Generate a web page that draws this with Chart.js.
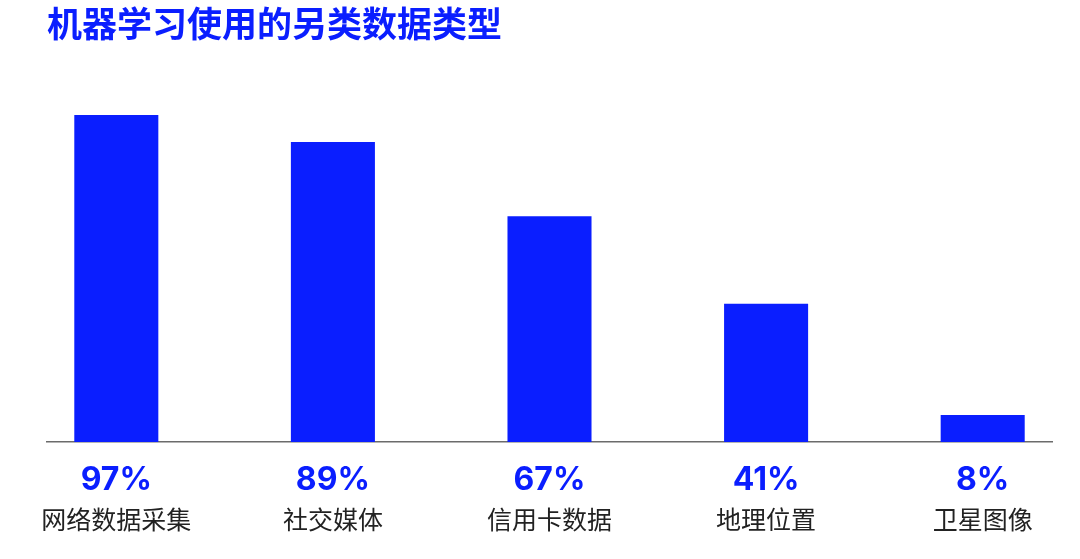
<!DOCTYPE html>
<html>
<head>
<meta charset="utf-8">
<script src="https://cdn.jsdelivr.net/npm/chart.js@4"></script>
<style>
  html, body { margin: 0; padding: 0; background: #fff; }
  #wrap { width: 1080px; height: 559px; }
</style>
</head>
<body>
<div id="wrap"><canvas id="main-chart"></canvas></div>
<script>
  // 机器学习使用的另类数据类型 — 막대 5개, 값 아래에 % + 항목명
  const BLUE = '#0A1EFF';
  const INK  = '#222222';

  const TITLE      = '机器学习使用的另类数据类型';
  const categories = ['网络数据采集', '社交媒体', '信用卡数据', '地理位置', '卫星图像'];
  const values     = [97, 89, 67, 41, 8];
  const pctLabels  = ['97%', '89%', '67%', '41%', '8%'];

  // 선형 x축 위에 막대를 놓아 기준선이 막대 바깥까지 이어지도록 함
  const points = values.map((v, i) => ({ x: i, y: v }));
  const tickAt = scale => { scale.ticks = categories.map((_, i) => ({ value: i })); };
  // tick padding 이 위아래로 두 번 들어가므로 축 높이를 직접 맞춤
  const fitTo = h => scale => { scale.height = h; };

  const ctx = document.getElementById('main-chart').getContext('2d');
  new Chart(ctx, {
    type: 'bar',
    data: {
      datasets: [{
        data: points,
        backgroundColor: BLUE,
        hoverBackgroundColor: BLUE,
        borderWidth: 0,
        barPercentage: 0.388,
        categoryPercentage: 1,
        xAxisID: 'x',
        yAxisID: 'y'
      }]
    },
    options: {
      responsive: true, maintainAspectRatio: false,
      animation: false,
      layout: { padding: { left: 47, right: 28, top: 0, bottom: 25 } },
      plugins: {
        legend: { display: false },
        tooltip: { enabled: false },
        title: {
          display: true, text: TITLE, align: 'start', color: BLUE,
          font: { family: '"Noto Sans CJK SC", sans-serif', size: 35, weight: 'bold', lineHeight: 1.2 },
          padding: { top: 3, bottom: 60 }
        }
      },
      scales: {
        x: {
          type: 'linear', position: 'bottom', min: -0.32, max: 4.32, offset: false,
          afterBuildTicks: tickAt,
          afterFit: fitTo(57.2),
          grid: { display: false, drawTicks: false, offset: false },
          border: { display: true, color: '#6b6b6b', width: 1.5 },
          ticks: {
            autoSkip: false, maxRotation: 0, padding: 18.8, color: BLUE,
            font: { family: 'Inter, "Noto Sans", sans-serif', size: 32, weight: 'bold', lineHeight: 1.2 },
            callback: v => pctLabels[v]
          }
        },
        x2: {
          type: 'linear', position: 'bottom', min: -0.32, max: 4.32, offset: false,
          afterBuildTicks: tickAt,
          afterFit: fitTo(34.8),
          grid: { display: false, drawTicks: false, offset: false },
          border: { display: false },
          ticks: {
            autoSkip: false, maxRotation: 0, padding: 4.8, color: INK,
            font: { family: '"Noto Sans CJK SC", sans-serif', size: 25, lineHeight: 1.2 },
            callback: v => categories[v]
          }
        },
        y: { display: false, min: 0, max: 100 }
      }
    }
  });
</script>
</body>
</html>
